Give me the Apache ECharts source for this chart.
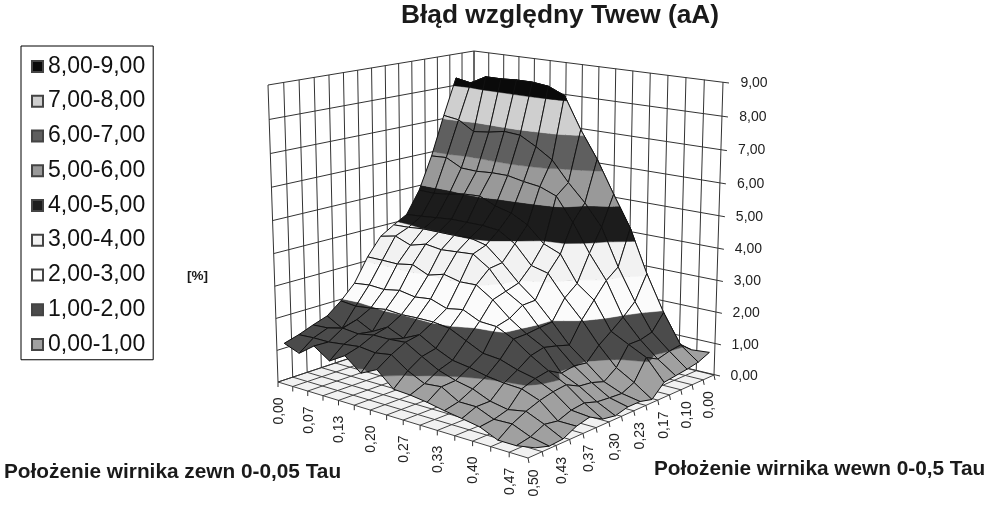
<!DOCTYPE html>
<html><head><meta charset="utf-8">
<style>html,body{margin:0;padding:0;background:#fff}#c{width:993px;height:506px}</style>
<script src="https://cdn.jsdelivr.net/npm/echarts@6/dist/echarts.min.js"></script>
</head><body><div id="c"></div>
<script>
const title = "Błąd względny Twew (aA)";
const unitLabel = "[%]";
const axisNameOuter = "Położenie wirnika zewn 0-0,05 Tau";
const axisNameInner = "Położenie wirnika wewn 0-0,5 Tau";
const bandNames = ["0,00-1,00","1,00-2,00","2,00-3,00","3,00-4,00","4,00-5,00","5,00-6,00","6,00-7,00","7,00-8,00","8,00-9,00"];
const bandColors = ["#a0a0a0","#4b4b4b","#fbfbfb","#f2f2f2","#1c1c1c","#999999","#5f5f5f","#cfcfcf","#0a0a0a"];
const zTicks = ["0,00","1,00","2,00","3,00","4,00","5,00","6,00","7,00","8,00","9,00"];
const outerTicks = ["0,00","0,07","0,13","0,20","0,27","0,33","0,40","0,47"];
const innerTicks = ["0,50","0,43","0,37","0,30","0,23","0,17","0,10","0,00"];
// surface heights [%]: rows from the front edge (row0) to the back edge (row14), 16 points each
const row0  = [1.15,.97,1.33,1.0,1.3,.9,1.15,.7,.67,.6,.5,.42,.33,.1,.1,.2];
const row1  = [1.28,1.31,1.31,1.37,1.43,1.37,1.45,1.1,.85,.9,.6,.6,.38,.4,.18,.07];
const row2  = [1.45,1.48,1.6,1.55,1.64,1.64,1.68,1.38,1.1,.93,.82,.6,.5,.6,.37,.1];
const row3  = [1.6,1.33,1.73,1.48,1.75,1.53,1.77,1.48,1.25,1.17,1.05,.98,.95,.75,.3,.3];
const row4  = [1.95,1.9,1.96,2.04,2.0,2.02,2.02,1.95,1.7,1.45,1.4,1.22,1.1,.85,.45,.4];
const row5  = [2.39,2.45,2.42,2.51,2.42,2.48,2.3,2.39,2.15,2.12,1.87,1.5,1.18,.9,.5,.17];
const row6  = [3.12,3.12,3.11,3.2,2.98,3.12,3.0,3.02,2.68,2.23,1.88,1.6,.95,.7,.37,.1];
const row7  = [3.67,3.78,3.59,3.73,3.66,3.7,3.74,3.4,2.81,2.5,1.93,1.5,1.02,.65,.33,.2];
const row8  = [3.93,3.95,4.0,4.0,4.0,4.02,3.9,3.46,2.94,2.52,1.97,1.38,.96,.52,.3,.2];
const row9  = [4.16,4.2,4.25,4.3,4.3,4.3,4.25,3.93,3.36,3.23,2.58,2.02,1.36,.8,.48,.1];
const row10 = [4.85,4.84,4.9,5.0,5.03,4.81,4.68,4.41,3.92,3.71,2.9,2.5,1.65,1.37,1.1,.47];
const row11 = [5.87,5.9,5.65,5.63,5.67,5.67,5.57,5.5,5.3,4.58,3.72,2.98,1.95,1.37,.9,.52];
const row12 = [7.1,7.03,6.73,6.79,6.89,6.85,6.57,6.24,5.62,5.08,4.42,3.28,2.31,1.47,1.0,.57];
const row13 = [8.23,8.14,8.4,8.4,8.43,8.43,8.37,8.15,7.17,6.34,5.34,4.38,3.06,1.95,1.05,.64];
const row14 = [7.6,7.7,7.8,7.9,8.0,7.9,7.8,6.9,6.2,5.2,4.3,3.0,2.0,.9,.75,.8];
const rows = [row0,row1,row2,row3,row4,row5,row6,row7,row8,row9,row10,row11,row12,row13,row14];

// view of the box
const camera = {
  floor:[[278,382],[528,458],[714,375],[474,317]],
  top:[[268,85],[529,127],[723,82],[474,51]],
  zBow:.05, zMax:9, cells:15
};
function homography(q){
  const [[x0,y0],[x1,y1],[x2,y2],[x3,y3]]=[q[0],q[1],q[2],q[3]];
  const dx1=x1-x2,dx2=x3-x2,sx=x0-x1+x2-x3,dy1=y1-y2,dy2=y3-y2,sy=y0-y1+y2-y3;
  const d=dx1*dy2-dx2*dy1,g=(sx*dy2-dx2*sy)/d,h=(dx1*sy-sx*dy1)/d;
  const a=x1-x0+g*x1,b=x3-x0+h*x3,c=x0,e=y1-y0+g*y1,f=y3-y0+h*y3,k=y0;
  return (u,v)=>{const w=g*u+h*v+1;return [(a*u+b*v+c)/w,(e*u+f*v+k)/w];};
}
const H0=homography(camera.floor),H1=homography(camera.top);
function project(u,v,z){
  const s=z/camera.zMax,t=s/(1+camera.zBow*(1-s));
  const a=H0(u,v),b=H1(u,v);
  return [a[0]+(b[0]-a[0])*t,a[1]+(b[1]-a[1])*t];
}
const N=camera.cells;
function line(a,b,stroke,lw){return {type:'line',silent:true,shape:{x1:a[0],y1:a[1],x2:b[0],y2:b[1]},style:{stroke:stroke||'#333',lineWidth:lw||1}};}
function txt(s,p,rot,size){return {type:'text',silent:true,x:p[0],y:p[1],rotation:rot||0,style:{text:s,fill:'#222',font:(size||14)+'px "Liberation Sans"',align:'center',verticalAlign:'middle'}};}

function renderFrame(){
  const c=[];
  c.push({type:'polygon',silent:true,shape:{points:camera.floor},style:{fill:'#f1f1f1'}});
  for(let n=0;n<=N;n++){
    c.push(line(project(n/N,0,0),project(n/N,1,0),'#444',1));
    c.push(line(project(0,n/N,0),project(1,n/N,0),'#444',1));
    c.push(line(project(0,n/N,0),project(0,n/N,9)));
    c.push(line(project(n/N,1,0),project(n/N,1,9)));
  }
  for(let z=0;z<=camera.zMax;z++){
    c.push(line(project(0,0,z),project(0,1,z)));
    const e=project(1,1,z);
    c.push(line(project(0,1,z),[e[0]+6,e[1]+1]));
    c.push(txt(zTicks[z],[e[0]+31-(camera.zMax-z)*.1,e[1]+1]));
  }
  for(let n=0;n<=N;n++){
    const a=project(n/N,0,0),b=project(1,n/N,0);
    if(n<N)c.push(line(a,[a[0],a[1]+5]));
    c.push(line(b,[b[0]+1,b[1]+5]));
  }
  outerTicks.forEach((s,k)=>{const p=project(2*k/N,0,0);c.push(txt(s,[p[0]+1,p[1]+29],Math.PI/2));});
  innerTicks.forEach((s,k)=>{const p=project(1,2*k/N,0);c.push(txt(s,[p[0]+6,p[1]+25],Math.PI/2));});
  return {type:'group',children:c};
}

function clipBand(poly,lo,hi){
  function cut(pts,keep,lim){
    const o=[];
    for(let a=0;a<pts.length;a++){
      const p=pts[a],q=pts[(a+1)%pts.length],kp=keep(p[2]),kq=keep(q[2]);
      if(kp)o.push(p);
      if(kp!==kq){const t=(lim-p[2])/(q[2]-p[2]);o.push([p[0]+(q[0]-p[0])*t,p[1]+(q[1]-p[1])*t,lim]);}
    }
    return o;
  }
  let r=cut(poly,z=>z>=lo,lo);
  if(r.length)r=cut(r,z=>z<=hi,hi);
  return r;
}
const cells=[];
for(let j=rows.length-2;j>=0;j--)for(let i=0;i<15;i++)cells.push([i,j]);
function renderCell(params,api){
  const i=api.value(0),j=api.value(1);
  const node=(a,b)=>{const z=rows[b][a];const p=project(a/N,(b+.5)/N,z);return [p[0],p[1],z];};
  const quad=[node(i,j),node(i+1,j),node(i+1,j+1),node(i,j+1)];
  const ch=[];
  bandColors.forEach((col,k)=>{
    const r=clipBand(quad,k,k+1);
    if(r.length>2)ch.push({type:'polygon',silent:true,shape:{points:r.map(p=>[p[0],p[1]])},style:{fill:col,stroke:col,lineWidth:.4}});
  });
  ch.push({type:'polygon',silent:true,shape:{points:quad.map(p=>[p[0],p[1]])},style:{fill:'none',stroke:'#111',lineWidth:1}});
  return {type:'group',children:ch};
}
const legendSeries=bandNames.map((n,k)=>({type:'custom',name:n,coordinateSystem:'none',data:[],renderItem:()=>null,itemStyle:{color:bandColors[k],borderColor:'#444',borderWidth:.5}}));
const chart=echarts.init(document.getElementById('c'),null,{renderer:'canvas'});
chart.setOption({
  animation:false,backgroundColor:'#fff',
  title:[
    {text:title,left:401,top:3,padding:0,textStyle:{fontFamily:'Liberation Sans',fontSize:26.3,fontWeight:'bold',color:'#1a1a1a'}},
    {text:unitLabel,left:187,top:269,padding:0,textStyle:{fontFamily:'Liberation Sans',fontSize:13.5,fontWeight:'bold',color:'#1a1a1a'}},
    {text:axisNameOuter,left:4,top:462,padding:0,textStyle:{fontFamily:'Liberation Sans',fontSize:20.8,fontWeight:'bold',color:'#1a1a1a'}},
    {text:axisNameInner,left:654,top:459,padding:0,textStyle:{fontFamily:'Liberation Sans',fontSize:20.8,fontWeight:'bold',color:'#1a1a1a'}}
  ],
  legend:{orient:'vertical',left:21,top:46,padding:[7,8,2,10],itemWidth:11,itemHeight:11,itemGap:8,icon:'rect',borderColor:'#000',borderWidth:1,selectedMode:false,
    textStyle:{fontFamily:'Liberation Sans',fontSize:23,color:'#111',lineHeight:26.75,padding:[0,0,0,0]},data:bandNames.slice().reverse()},
  series:[
    {type:'custom',name:'frame',coordinateSystem:'none',silent:true,data:[[0]],renderItem:renderFrame},
    {type:'custom',name:'surface',coordinateSystem:'none',silent:true,data:cells,renderItem:renderCell},
    ...legendSeries
  ]
});
</script></body></html>
